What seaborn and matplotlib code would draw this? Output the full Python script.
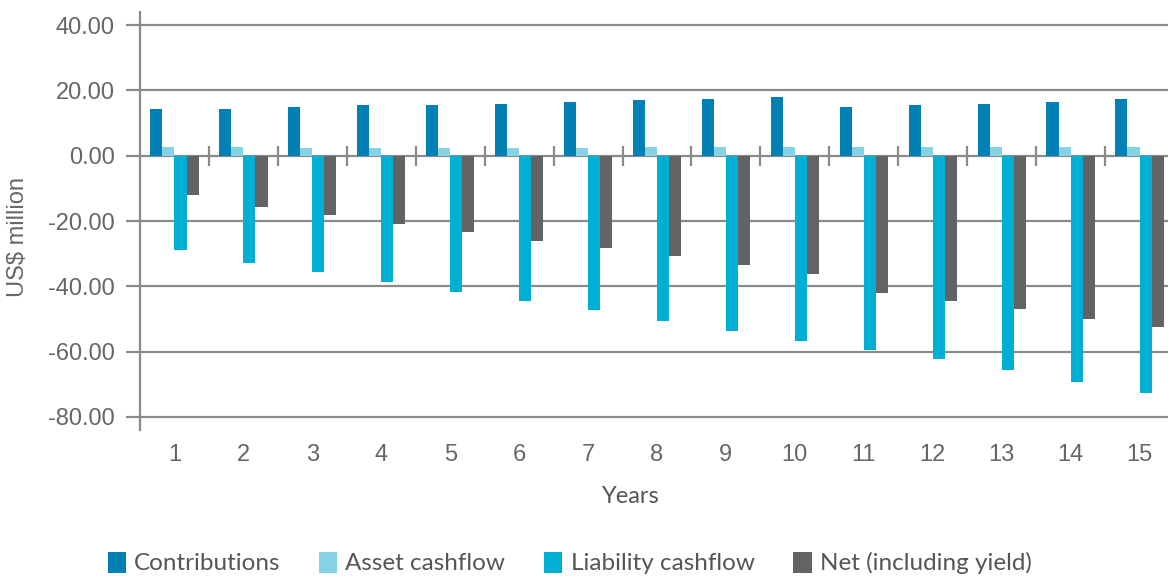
import numpy as np
import pandas as pd
import matplotlib
matplotlib.use("Agg")
import matplotlib.pyplot as plt
from matplotlib.ticker import FuncFormatter
import seaborn as sns

years = [str(i) for i in range(1, 16)]
contributions = [14.4, 14.4, 15.0, 15.6, 15.6, 15.9, 16.5, 17.1, 17.4, 18.1, 15.0, 15.6, 15.9, 16.5, 17.4]
asset_cashflow = [2.75, 2.75, 2.45, 2.45, 2.45, 2.45, 2.45, 2.75, 2.75, 2.75, 2.75, 2.75, 2.75, 2.75, 2.75]
liability_cashflow = [-28.8, -32.8, -35.5, -38.6, -41.6, -44.4, -47.4, -50.5, -53.6, -56.6, -59.4, -62.4, -65.5, -69.2, -72.8]
net_including_yield = [-11.9, -15.6, -18.1, -20.8, -23.3, -26.0, -28.2, -30.6, -33.4, -36.1, -42.2, -44.4, -46.8, -49.9, -52.6]

series_names = ["Contributions", "Asset cashflow", "Liability cashflow", "Net (including yield)"]
series_colors = ["#0080B3", "#85D3E5", "#00AFD3", "#636366"]
y_ticks = [40, 20, 0, -20, -40, -60, -80]

df = pd.DataFrame({
    "Year": years * 4,
    "Value": contributions + asset_cashflow + liability_cashflow + net_including_yield,
    "Series": sum([[n] * len(years) for n in series_names], []),
})

sns.set_theme(style="white")
plt.rcParams["font.family"] = ["Liberation Sans", "DejaVu Sans"]

fig = plt.figure(figsize=(11.68, 5.79), dpi=100)
W, H = 1168, 579
ax_l, ax_r, ax_t, ax_b = 140, 1174, 12, 430
ax = fig.add_axes([ax_l / W, 1 - ax_b / H, (ax_r - ax_l) / W, (ax_b - ax_t) / H])

grey = "#8a8a8a"
text_grey = "#666666"

sns.barplot(data=df, x="Year", y="Value", hue="Series", hue_order=series_names,
            palette=series_colors, width=0.7, saturation=1, linewidth=0,
            dodge=True, ax=ax, zorder=3)

ylo, yhi = -84, 44
ax.set_ylim(ylo, yhi)
ax.set_xlim(-0.5, len(years) - 0.5)
ax.set_yticks(y_ticks)
ax.yaxis.set_major_formatter(FuncFormatter(lambda v, p: f"{v:.2f}"))
ax.grid(axis="y", color=grey, linewidth=1.6, zorder=0)
ax.set_axisbelow(True)

for s in ["top", "right", "bottom"]:
    ax.spines[s].set_visible(False)
ax.spines["left"].set_color(grey)
ax.spines["left"].set_linewidth(1.6)

ax.tick_params(axis="y", which="major", direction="out", length=10, width=1.6,
               color=grey, labelsize=17, labelcolor=text_grey, pad=8, left=True)
ax.tick_params(axis="x", length=0, labelsize=17, labelcolor=text_grey, pad=10)

# tick marks at group boundaries on the zero line
zero_frac = (0 - ylo) / (yhi - ylo)
sec = ax.secondary_xaxis(zero_frac)
sec.set_xticks(np.arange(1, len(years)) - 0.5)
sec.set_xticklabels([])
sec.tick_params(direction="inout", length=15, width=1.6, color=grey)
for s in sec.spines.values():
    s.set_visible(False)

ax.set_ylabel("US$ million", fontsize=17, color=text_grey)
ax.yaxis.set_label_coords((29 - ax_l) / (ax_r - ax_l), (ax_b - 237) / (ax_b - ax_t))
ax.set_xlabel("Years", fontsize=17, color="#555555", family=["Lato", "DejaVu Sans"])
ax.xaxis.set_label_coords((631 - ax_l) / (ax_r - ax_l), (ax_b - 486) / (ax_b - ax_t))

sns.move_legend(ax, "center", bbox_to_anchor=(569.5 / W, 1 - 563 / H),
                bbox_transform=fig.transFigure, ncol=4, frameon=False, title=None,
                fontsize=17.5, handlelength=0.75, handleheight=0.95, handletextpad=0.33,
                columnspacing=1.6, borderaxespad=0)
leg = ax.get_legend()
for t in leg.get_texts():
    t.set_color("#555555")
    t.set_fontfamily(["Lato", "DejaVu Sans"])

fig.savefig("out.png", dpi=100)
